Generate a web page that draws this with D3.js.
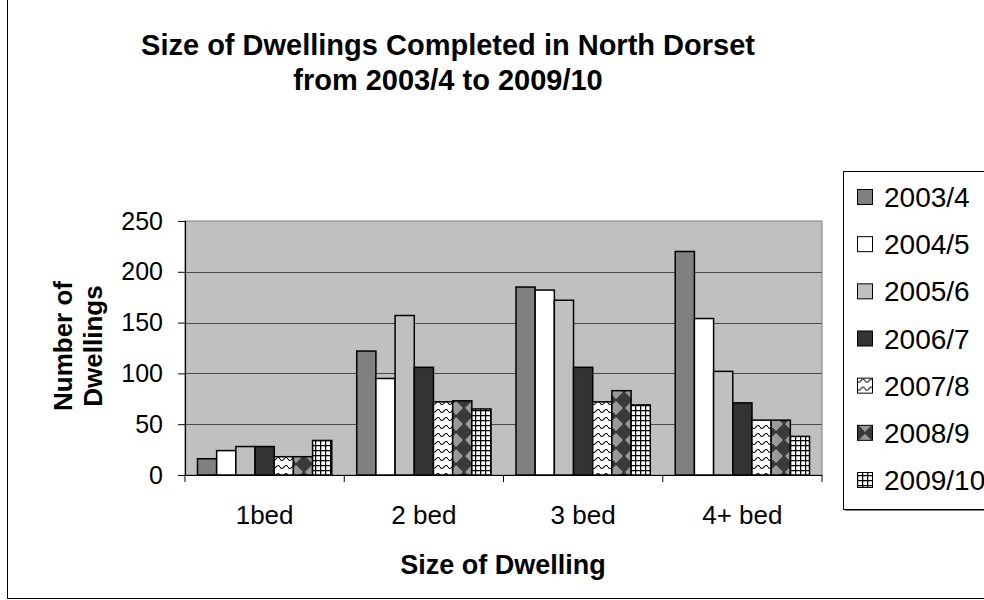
<!DOCTYPE html>
<html>
<head>
<meta charset="utf-8">
<script src="https://cdn.jsdelivr.net/npm/d3@7"></script>
<style>
  html, body { margin: 0; padding: 0; background: #fff; overflow: hidden; }
  svg { display: block; font-family: "Liberation Sans", Arial, sans-serif; }
</style>
</head>
<body>
<svg id="chart" width="984" height="600"></svg>
<script>
// Dwelling sizes and completions per financial year
const categories = ["1bed", "2 bed", "3 bed", "4+ bed"];
const seriesNames = ["2003/4", "2004/5", "2005/6", "2006/7", "2007/8", "2008/9", "2009/10"];
const v2003 = [16, 122, 185, 220];
const v2004 = [24, 95, 182, 154];
const v2005 = [28, 157, 172, 102];
const v2006 = [28, 106, 106, 71];
const v2007 = [18, 72, 72, 54];
const v2008 = [18, 73, 83, 54];
const v2009 = [34, 65, 69, 38];
const seriesValues = [v2003, v2004, v2005, v2006, v2007, v2008, v2009];
const yTicks = [0, 50, 100, 150, 200, 250];

const svg = d3.select("#chart");
const defs = svg.append("defs");

// Fill patterns for the later years
const pWave = defs.append("pattern").attr("id", "pat-wave")
  .attr("patternUnits", "userSpaceOnUse").attr("width", 8).attr("height", 8);
pWave.append("rect").attr("width", 8).attr("height", 8).attr("fill", "#fff");
pWave.append("path").attr("d", "M0,3 Q2,6 4,3 Q6,0 8,3").attr("fill", "none")
  .attr("stroke", "#000").attr("stroke-width", 1.2);

const pDiamond = defs.append("pattern").attr("id", "pat-diamond")
  .attr("patternUnits", "userSpaceOnUse").attr("width", 16).attr("height", 16);
pDiamond.append("rect").attr("width", 16).attr("height", 16).attr("fill", "#3a3a3a");
pDiamond.append("path").attr("d", "M8,1 L15,8 L8,15 L1,8 Z").attr("fill", "#9a9a9a");

const pGrid = defs.append("pattern").attr("id", "pat-grid")
  .attr("patternUnits", "userSpaceOnUse").attr("width", 5).attr("height", 5);
pGrid.append("rect").attr("width", 5).attr("height", 5).attr("fill", "#fff");
pGrid.append("path").attr("d", "M0,0.6 H5 M0.6,0 V5").attr("stroke", "#000").attr("stroke-width", 1.3);

const fills = ["#808080", "#ffffff", "#c0c0c0", "#333333",
  "url(#pat-wave)", "url(#pat-diamond)", "url(#pat-grid)"];

// Chart area frame (runs past the right and bottom edges)
svg.append("rect").attr("x", 7.5).attr("y", -10).attr("width", 1100).attr("height", 608.5)
  .attr("fill", "#fff").attr("stroke", "#000").attr("stroke-width", 1);

// Title
const title = svg.append("text").attr("text-anchor", "middle")
  .attr("font-weight", "bold").attr("font-size", 29).attr("fill", "#000");
title.append("tspan").attr("x", 448).attr("y", 55).text("Size of Dwellings Completed in North Dorset");
title.append("tspan").attr("x", 448).attr("y", 90).text("from 2003/4 to 2009/10");

// Plot area
const plot = { left: 185, right: 822, top: 221, bottom: 475 };

const x = d3.scaleBand().domain(categories).range([plot.left, plot.right]).padding(0);
const xs = d3.scaleBand().domain(seriesNames).range([0, x.bandwidth()])
  .paddingInner(0).paddingOuter(0.65);
const y = d3.scaleLinear().domain([0, 250]).range([plot.bottom, plot.top]);

svg.append("rect").attr("x", plot.left).attr("y", plot.top)
  .attr("width", plot.right - plot.left).attr("height", plot.bottom - plot.top)
  .attr("fill", "#c0c0c0").attr("stroke", "#808080").attr("stroke-width", 1);

// Gridlines
svg.append("g").selectAll("line").data(yTicks.filter(t => t > 0 && t < 250)).join("line")
  .attr("x1", plot.left).attr("x2", plot.right)
  .attr("y1", d => Math.round(y(d)) + 0.5).attr("y2", d => Math.round(y(d)) + 0.5)
  .attr("stroke", "#4a4a4a").attr("stroke-width", 1);

// Bars
const groups = svg.append("g").selectAll("g").data(seriesNames).join("g")
  .attr("fill", (d, i) => fills[i]);
groups.selectAll("rect").data((s, i) => categories.map((c, j) => ({ c, s, v: seriesValues[i][j] })))
  .join("rect")
  .attr("x", d => x(d.c) + xs(d.s))
  .attr("width", xs.bandwidth())
  .attr("y", d => y(d.v))
  .attr("height", d => y(0) - y(d.v))
  .attr("stroke", "#000").attr("stroke-width", 1.5);

// Y axis
const yAxis = svg.append("g").attr("transform", `translate(${plot.left},0)`)
  .call(d3.axisLeft(y).tickValues(yTicks).tickSize(7).tickPadding(15).tickFormat(d3.format("d")));
yAxis.select(".domain").attr("stroke", "#000").attr("stroke-width", 1.2);
yAxis.selectAll(".tick line").attr("stroke", "#000");
yAxis.selectAll("text").attr("font-size", 25).attr("fill", "#000")
  .attr("font-family", "'Liberation Sans', Arial, sans-serif");

// X axis
const xAxis = svg.append("g").attr("transform", `translate(0,${plot.bottom})`)
  .call(d3.axisBottom(x).tickSize(0).tickPadding(31));
xAxis.select(".domain").attr("stroke", "#000").attr("stroke-width", 1.2);
xAxis.selectAll("text").attr("font-size", 26).attr("fill", "#000")
  .attr("font-family", "'Liberation Sans', Arial, sans-serif");
// Tick marks at category boundaries
svg.append("g").selectAll("line")
  .data(categories.map(c => x(c)).concat([plot.right]))
  .join("line")
  .attr("x1", d => d).attr("x2", d => d)
  .attr("y1", plot.bottom).attr("y2", plot.bottom + 7)
  .attr("stroke", "#000");

// Axis titles
svg.append("text").attr("x", 503).attr("y", 574)
  .attr("text-anchor", "middle").attr("font-weight", "bold").attr("font-size", 27)
  .text("Size of Dwelling");

const yTitle = svg.append("text").attr("transform", "translate(0,346) rotate(-90)")
  .attr("text-anchor", "middle").attr("font-weight", "bold").attr("font-size", 26);
yTitle.append("tspan").attr("x", 0).attr("y", 72).text("Number of");
yTitle.append("tspan").attr("x", 0).attr("y", 102).text("Dwellings");

// Legend
const legend = { x: 843, y: 171, w: 200, h: 338 };
svg.append("rect").attr("x", legend.x + 2).attr("y", legend.y + 2)
  .attr("width", legend.w).attr("height", legend.h).attr("fill", "#808080");
svg.append("rect").attr("x", legend.x + 0.5).attr("y", legend.y + 0.5)
  .attr("width", legend.w).attr("height", legend.h)
  .attr("fill", "#fff").attr("stroke", "#000").attr("stroke-width", 1);

const itemY = d3.scalePoint().domain(seriesNames).range([197, 480]);
const items = svg.append("g").selectAll("g").data(seriesNames).join("g")
  .attr("transform", d => `translate(${legend.x + 14},${itemY(d)})`);
items.append("rect").attr("x", 0.5).attr("y", -7.5).attr("width", 15).attr("height", 15)
  .attr("fill", (d, i) => fills[i]).attr("stroke", "#000").attr("stroke-width", 1);
items.append("text").attr("x", 27).attr("y", 0).attr("dy", "0.36em")
  .attr("font-size", 28).text(d => d);
</script>
</body>
</html>
